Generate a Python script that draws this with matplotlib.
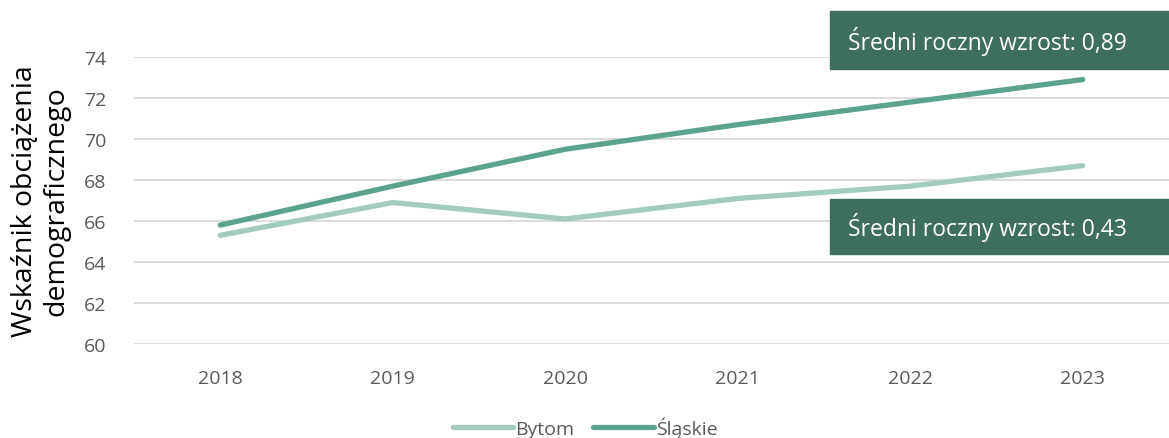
import matplotlib
matplotlib.use('Agg')
import matplotlib.pyplot as plt
from matplotlib.patches import Rectangle

plt.rcParams['font.family'] = ['Open Sans', 'DejaVu Sans']

years = ['2018', '2019', '2020', '2021', '2022', '2023']
bytom = [65.3, 66.9, 66.1, 67.1, 67.7, 68.7]
slaskie = [65.8, 67.7, 69.5, 70.7, 71.8, 72.9]
labels = ['Bytom', 'Śląskie']
box_texts = ['Średni roczny wzrost: 0,89', 'Średni roczny wzrost: 0,43']

W, H = 1169, 439
fig = plt.figure(figsize=(W / 100, H / 100), dpi=100)
ax = fig.add_axes([134 / W, 1 - 345 / H, 1 - 134 / W, (345 - 58) / H])

x = range(len(years))
ax.plot(x, bytom, color='#a3cbbf', lw=3.8, solid_capstyle='round', label=labels[0])
ax.plot(x, slaskie, color='#5ba38f', lw=3.8, solid_capstyle='round', label=labels[1])

ax.set_xlim(-0.5, len(years) - 0.5)
ax.set_ylim(60, 74)
ax.set_yticks(range(60, 75, 2))
ax.set_xticks(list(x))
ax.set_xticklabels(years)
ax.grid(axis='y', color='#d9d9d9', lw=1.3)
ax.set_axisbelow(True)
for s in ax.spines.values():
    s.set_visible(False)
ax.tick_params(length=0, labelsize=14, colors='#595959')
ax.tick_params(axis='y', pad=20)
ax.tick_params(axis='x', pad=18)
ax.set_ylabel('Wskaźnik obciążenia\ndemograficznego', fontsize=20.5, color='black',
              linespacing=1.15)
ax.yaxis.label.set_va('center')
ax.yaxis.set_label_coords(-0.09, 0.5)

leg = ax.legend(loc='center', bbox_to_anchor=(585 / W, 1 - 428 / H), bbox_transform=fig.transFigure,
                ncol=2, frameon=False, fontsize=14, handlelength=3.1, columnspacing=1.0,
                handletextpad=0.1, borderpad=0)
for t in leg.get_texts():
    t.set_color('#595959')

# boxes with average growth
for (y0, y1), txt in zip([(12, 70), (200, 255)], box_texts):
    fig.patches.append(Rectangle((830 / W, 1 - y1 / H), (W - 830) / W, (y1 - y0) / H,
                                 transform=fig.transFigure, color='#3d6e60', zorder=5))
    fig.text(848 / W, 1 - (y0 + y1) / 2 / H, txt, color='white', fontsize=16.5,
             va='center', ha='left', zorder=6)

fig.savefig('out.png', dpi=100)
